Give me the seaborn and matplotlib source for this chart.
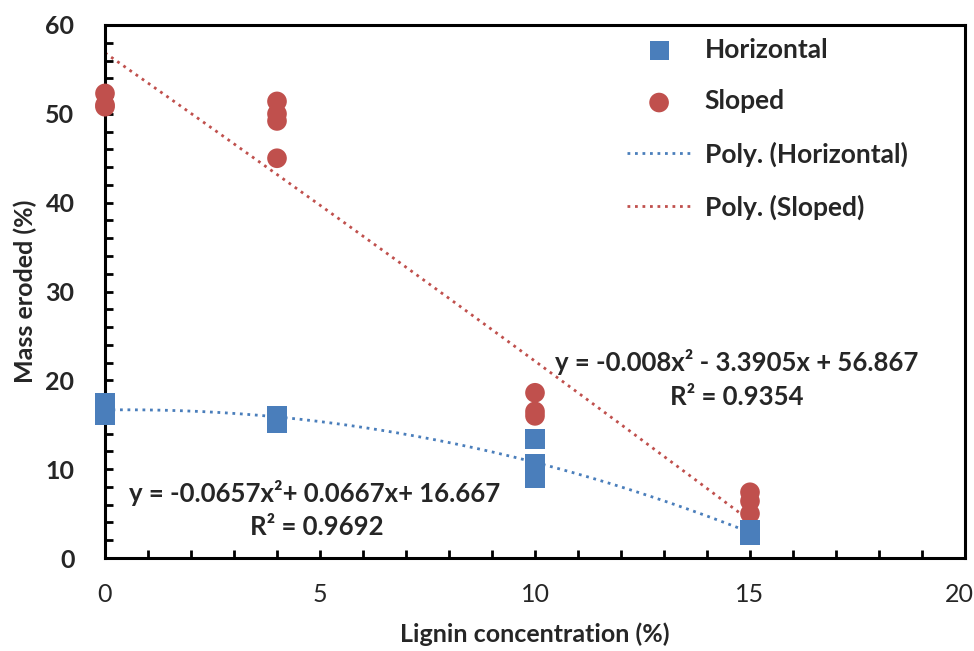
import numpy as np
import pandas as pd
import matplotlib
matplotlib.use("Agg")
import matplotlib.pyplot as plt
import matplotlib.transforms as mtransforms
import seaborn as sns
from matplotlib.ticker import MultipleLocator

sns.set_theme(style="white")
plt.rcParams['font.family'] = ['Lato', 'DejaVu Sans']

# Data
horiz_x = [0, 0, 0, 4, 4, 4, 10, 10, 10, 15, 15, 15]
horiz_y = [16.0, 16.5, 17.5, 15.2, 15.5, 16.0, 13.4, 10.6, 9.0, 2.5, 2.8, 3.2]
slope_x = [0, 0, 0, 4, 4, 4, 4, 10, 10, 10, 15, 15, 15]
slope_y = [52.3, 50.8, 51.0, 51.4, 50.0, 49.2, 45.0, 18.6, 16.5, 16.0, 7.4, 6.4, 5.0]
horiz_coef = [-0.0657, 0.0667, 16.667]
slope_coef = [-0.008, -3.3905, 56.867]
horiz_eq = "y = -0.0657x²+ 0.0667x+ 16.667"
horiz_r2 = "R² = 0.9692"
slope_eq = "y = -0.008x² - 3.3905x + 56.867"
slope_r2 = "R² = 0.9354"

BLUE = '#4A7EBB'
RED = '#C0504D'
H = 651

fig = plt.figure(figsize=(9.74, 6.51), dpi=100)
ax = fig.add_axes([105/974, 1-558/651, (965-105)/974, (558-25)/651])

xs = np.linspace(0, 15, 200)
hfit = pd.DataFrame({'x': xs, 'y': np.polyval(horiz_coef, xs)})
sfit = pd.DataFrame({'x': xs, 'y': np.polyval(slope_coef, xs)})

sns.lineplot(data=hfit, x='x', y='y', ax=ax, color=BLUE, lw=2.0,
             linestyle=(0, (1, 1.7)), label='Poly. (Horizontal)', zorder=2)
sns.lineplot(data=sfit, x='x', y='y', ax=ax, color=RED, lw=2.0,
             linestyle=(0, (1, 1.7)), label='Poly. (Sloped)', zorder=2)
sns.scatterplot(x=slope_x, y=slope_y, ax=ax, marker='o', s=200, color=RED,
                edgecolor='none', label='Sloped', zorder=3, clip_on=False)
sns.scatterplot(x=horiz_x, y=horiz_y, ax=ax, marker='s', s=190, color=BLUE,
                edgecolor='none', label='Horizontal', zorder=4, clip_on=False)

ax.set_xlim(0, 20)
ax.set_ylim(0, 60)
ax.xaxis.set_major_locator(MultipleLocator(5))
ax.xaxis.set_minor_locator(MultipleLocator(1))
ax.yaxis.set_major_locator(MultipleLocator(10))
ax.yaxis.set_minor_locator(MultipleLocator(2))
ax.tick_params(axis='both', which='both', direction='in', length=6, width=2,
               color='black', bottom=True, left=True, top=False, right=False)
ax.tick_params(axis='x', which='major', pad=18, labelsize=18)
ax.tick_params(axis='y', which='major', pad=22, labelsize=18)
for lab in ax.get_yticklabels():
    lab.set_fontweight('bold')
for sp in ax.spines.values():
    sp.set_linewidth(2.2)
    sp.set_color('black')

ax.set_xlabel('Lignin concentration (%)', fontsize=18, fontweight='bold', labelpad=12)
ax.set_ylabel('Mass eroded (%)', fontsize=18, fontweight='bold', labelpad=6)

for (px, py, s) in [(737, 362, slope_eq), (737, 397, slope_r2),
                    (315, 493, horiz_eq), (317, 527, horiz_r2)]:
    fig.text(px / 974, 1 - py / H, s, fontsize=18.5, fontweight='bold',
             ha='center', va='center')

handles, labels = ax.get_legend_handles_labels()
order = ['Horizontal', 'Sloped', 'Poly. (Horizontal)', 'Poly. (Sloped)']
hd = dict(zip(labels, handles))
leg = ax.legend([hd[k] for k in order], order, loc='upper left',
                bbox_to_anchor=(603/974, 1 - 14/H), bbox_transform=fig.transFigure,
                frameon=False, prop={'weight': 'bold', 'size': 19},
                labelspacing=1.05, handlelength=2.45, handletextpad=0.5)

# nudge the last x tick label so it stays inside the canvas
fig.canvas.draw()
last = [t for t in ax.get_xticklabels() if t.get_text() == '20']
for t in last:
    t.set_transform(t.get_transform() +
                    mtransforms.ScaledTranslation(-6/100, 0, fig.dpi_scale_trans))

fig.savefig('out.png', dpi=100)
